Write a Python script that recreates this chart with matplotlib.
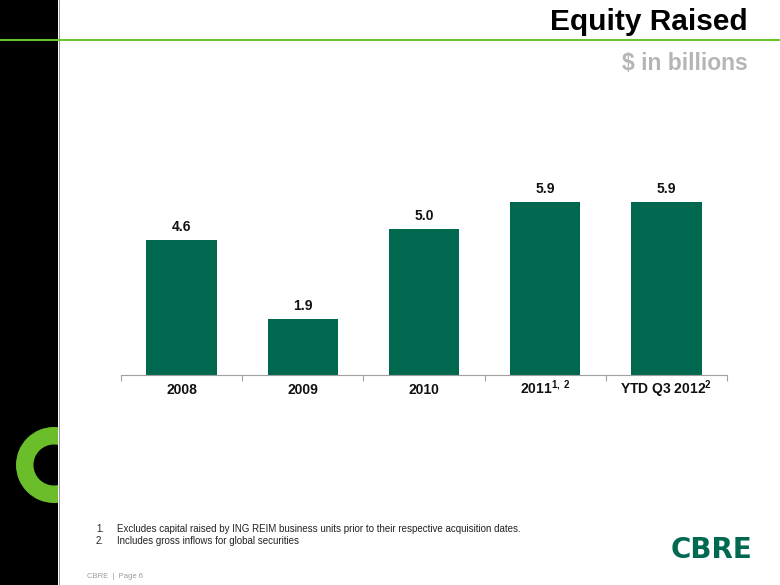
import matplotlib
matplotlib.use("Agg")
import matplotlib.pyplot as plt
from matplotlib.patches import Rectangle, Wedge

plt.rcParams['font.family'] = ['Liberation Sans', 'DejaVu Sans']
plt.rcParams['mathtext.fontset'] = 'custom'
plt.rcParams['mathtext.rm'] = 'Liberation Sans'
plt.rcParams['mathtext.it'] = 'Liberation Sans:italic'
plt.rcParams['mathtext.bf'] = 'Liberation Sans:bold'

categories = ["2008", "2009", "2010", "2011$^{\\mathregular{1,\\ 2}}$", "YTD Q3 2012$^{\\mathregular{2}}$"]
values = [4.6, 1.9, 5.0, 5.9, 5.9]
value_labels = ["4.6", "1.9", "5.0", "5.9", "5.9"]
title = "Equity Raised"
subtitle = "$ in billions"
footnotes = ["Excludes capital raised by ING REIM business units prior to their respective acquisition dates.",
             "Includes gross inflows for global securities"]

W, H = 780, 585
fig = plt.figure(figsize=(7.8, 5.85), dpi=100)
fig.patch.set_facecolor('white')

# decoration layer in pixel coordinates
deco = fig.add_axes([0, 0, 1, 1])
deco.set_xlim(0, W)
deco.set_ylim(H, 0)
deco.axis('off')
deco.add_patch(Rectangle((0, 0), 58, H, facecolor='black', edgecolor='none'))
deco.plot([58.5, 58.5], [0, H], color='#8a8a8a', lw=0.6)
ring = Wedge((54, 465), 38, 0, 360, width=17.5, facecolor='#6bbd2a', edgecolor='none')
deco.add_patch(ring)
ring.set_clip_path(Rectangle((0, 0), 58, H, transform=deco.transData))
deco.plot([0, W], [40, 40], color='#6ac42c', lw=1.5)
deco.text(748, 22, title, ha='right', va='center', fontsize=21.5, fontweight='bold', color='black')
deco.text(748, 64, subtitle, ha='right', va='center', fontsize=16.5, fontweight='bold', color='#b5b5b5')
for i, fn in enumerate(footnotes):
    y = 529 + i * 11.5
    deco.text(96, y, f"{i+1}.", ha='left', va='center', fontsize=7, color='#222222')
    deco.text(117, y, fn, ha='left', va='center', fontsize=7, color='#222222')
deco.text(87, 577, "CBRE  |  Page 6", ha='left', va='center', fontsize=5.5, color='#9a9a9a')
deco.text(711, 550, "CBRE", ha='center', va='center', fontsize=20, fontweight='bold',
          color='#00694f', family='DejaVu Sans')

# chart axes: x 121..727, baseline y=375, 29.3 px per unit
ymax = 7.0
x0, x1 = 121, 727
yb = 375
ytop = yb - ymax * 29.3
ax = fig.add_axes([x0 / W, 1 - yb / H, (x1 - x0) / W, (yb - ytop) / H])
ax.set_facecolor('none')
xs = list(range(len(values)))
bars = ax.bar(xs, values, width=0.58, color='#00684f')
ax.set_xlim(-0.5, len(values) - 0.5)
ax.set_ylim(0, ymax)
for x, v, lab in zip(xs, values, value_labels):
    ax.text(x, v + 0.2, lab, ha='center', va='bottom', fontsize=10, fontweight='bold', color='#111111')
for s in ['top', 'right', 'left']:
    ax.spines[s].set_visible(False)
ax.spines['bottom'].set_color('#a0a0a0')
ax.spines['bottom'].set_linewidth(0.8)
ax.set_yticks([])
ax.set_xticks([i - 0.5 for i in range(len(values) + 1)], minor=False)
ax.set_xticklabels([])
ax.tick_params(axis='x', which='major', length=4, color='#a0a0a0', direction='out')
ax.set_xticks(xs, minor=True)
labels = ax.set_xticklabels(categories, minor=True, fontsize=10, fontweight='bold', color='#111111')
for lab in labels:
    lab.set_verticalalignment('baseline')
ax.tick_params(axis='x', which='minor', length=0, pad=13.5)

fig.savefig('out.png', dpi=100)
